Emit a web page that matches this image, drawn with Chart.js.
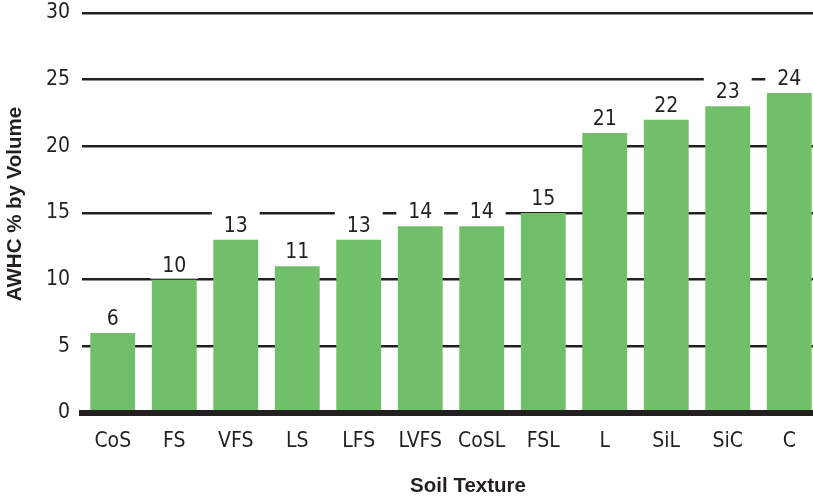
<!DOCTYPE html>
<html>
<head>
<meta charset="utf-8">
<script src="https://cdn.jsdelivr.net/npm/chart.js"></script>
<style>
  html, body { margin: 0; padding: 0; background: #fff; overflow: hidden; }
</style>
</head>
<body>
<canvas id="chart" width="820" height="499"></canvas>
<script>
  "use strict";

  const categories = ["CoS", "FS", "VFS", "LS", "LFS", "LVFS", "CoSL", "FSL", "L", "SiL", "SiC", "C"];
  const awhcValues = [6, 10, 13, 11, 13, 14, 14, 15, 21, 22, 23, 24];
  const yTicks = [0, 5, 10, 15, 20, 25, 30];
  const xTitle = "Soil Texture";
  const yTitle = "AWHC % by Volume";

  const ink = "#231f20";
  const green = "#72bf69";
  const fontName = "'DejaVu Sans Condensed', 'Liberation Sans Narrow', sans-serif";
  const titleFont = "bold 20.5px 'Liberation Sans', Arial, sans-serif";

  // value labels sit on a white box so the gridlines break behind them
  const valueLabels = {
    id: "valueLabels",
    afterDatasetsDraw(chart) {
      const ctx = chart.ctx;
      const meta = chart.getDatasetMeta(0);
      ctx.save();
      meta.data.forEach((bar, i) => {
        const w = bar.width + 3;
        ctx.fillStyle = "#fff";
        ctx.fillRect(bar.x - w / 2, bar.y - 33, w, 32);
        ctx.fillStyle = ink;
        ctx.font = "21px " + fontName;
        ctx.textAlign = "center";
        ctx.textBaseline = "alphabetic";
        ctx.fillText(String(awhcValues[i]), bar.x, bar.y - 8);
      });
      ctx.restore();
    },
  };

  // axis titles, placed a little off-centre like the original
  const axisTitles = {
    id: "axisTitles",
    afterDraw(chart) {
      const ctx = chart.ctx;
      ctx.save();
      ctx.fillStyle = ink;
      ctx.font = titleFont;
      ctx.textAlign = "center";
      ctx.textBaseline = "middle";
      ctx.fillText(xTitle, 468, 486);
      ctx.translate(15, 204);
      ctx.rotate(-Math.PI / 2);
      ctx.fillText(yTitle, 0, 0);
      ctx.restore();
    },
  };

  new Chart(document.getElementById("chart").getContext("2d"), {
    type: "bar",
    data: {
      labels: categories,
      datasets: [
        {
          label: "AWHC",
          data: awhcValues,
          backgroundColor: green,
          barPercentage: 0.73,
          categoryPercentage: 1,
        },
      ],
    },
    options: {
      responsive: false,
      animation: false,
      layout: { padding: { top: 13, right: 0, bottom: 0, left: 0 } },
      plugins: {
        legend: { display: false },
        tooltip: { enabled: false },
      },
      scales: {
        x: {
          offset: true,
          grid: { display: false, drawTicks: false },
          border: { display: true, color: ink, width: 6, z: 1 },
          ticks: {
            color: ink,
            font: { family: fontName, size: 21 },
            padding: 16,
          },
          afterFit(scale) {
            scale.height = 86;
            scale.paddingLeft = 0;
            scale.paddingRight = 0;
          },
        },
        y: {
          min: 0,
          max: 30,
          afterBuildTicks(scale) {
            scale.ticks = yTicks.map((v) => ({ value: v }));
          },
          grid: {
            color: (c) => (c.tick && c.tick.value === 0 ? "rgba(0,0,0,0)" : ink),
            lineWidth: 2.6,
            drawTicks: false,
          },
          border: { display: false },
          ticks: {
            color: ink,
            font: { family: fontName, size: 21 },
            padding: 12,
          },
          afterFit(scale) {
            scale.width = 82;
            scale.paddingTop = 0;
            scale.paddingBottom = 0;
          },
        },
      },
    },
    plugins: [valueLabels, axisTitles],
  });
</script>
</body>
</html>
